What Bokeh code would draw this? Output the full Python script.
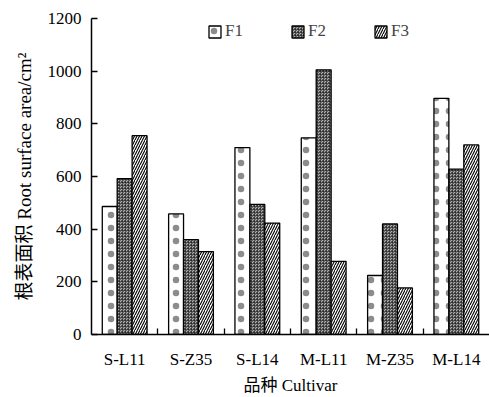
from bokeh.plotting import figure
from bokeh.models import FixedTicker, Legend, LegendItem, Range1d
from bokeh.embed import file_html
from bokeh.resources import INLINE

categories = ["S-L11", "S-Z35", "S-L14", "M-L11", "M-Z35", "M-L14"]
F1 = [486, 458, 710, 747, 224, 897]
F2 = [592, 360, 494, 1005, 420, 628]
F3 = [755, 315, 423, 278, 177, 720]
y_ticks = [0, 200, 400, 600, 800, 1000, 1200]

centers = [i + 0.5 for i in range(len(categories))]
bounds = [i for i in range(1, len(categories))]
bw = 0.225

p = figure(width=489, height=397, output_backend="svg", toolbar_location=None,
           x_range=Range1d(0, 6), y_range=Range1d(0, 1200),
           min_border_left=91, min_border_right=0, min_border_top=18, min_border_bottom=63)
p.outline_line_color = None
p.grid.visible = False
p.background_fill_color = "white"

common = dict(width=bw, bottom=0, line_color="black", line_width=1.3)
r1 = p.vbar(x=[c - bw for c in centers], top=F1, fill_color="white",
            hatch_pattern="dot", hatch_scale=13, hatch_weight=0.4, hatch_color="black",
            hatch_alpha=0.45, **common)
r2 = p.vbar(x=centers, top=F2, fill_color="#b0b0b0",
            hatch_pattern="criss_cross", hatch_scale=3, hatch_weight=0.6, hatch_color="#222222", **common)
r3 = p.vbar(x=[c + bw for c in centers], top=F3, fill_color="white",
            hatch_pattern="right_diagonal_line", hatch_scale=5, hatch_weight=1.1, hatch_color="black", **common)

font = "Liberation Serif"
label_font = "Liberation Serif, Noto Sans CJK SC"
p.xaxis.ticker = FixedTicker(ticks=centers, minor_ticks=bounds)
p.xaxis.major_label_overrides = {c: n for c, n in zip(centers, categories)}
p.xaxis.major_tick_line_color = None
p.xaxis.minor_tick_in = 6
p.xaxis.minor_tick_out = 0
p.xaxis.minor_tick_line_color = "black"
p.xaxis.major_label_standoff = 9
p.xaxis.axis_label = "品种 Cultivar"
p.xaxis.axis_label_standoff = 4

p.yaxis.ticker = FixedTicker(ticks=y_ticks)
p.yaxis.major_tick_in = 6
p.yaxis.major_tick_out = 0
p.yaxis.minor_tick_line_color = None
p.yaxis.major_label_standoff = 10
p.yaxis.axis_label = "根表面积 Root surface area/cm²"
p.yaxis.axis_label_standoff = 10

for ax in (p.xaxis, p.yaxis):
    ax.axis_line_color = "black"
    ax.axis_line_width = 1.5
    ax.major_tick_line_width = 1.3
    ax.minor_tick_line_width = 1.3
    ax.major_label_text_font = font
    ax.major_label_text_font_size = "17px"
    ax.major_label_text_color = "black"
    ax.axis_label_text_font = label_font
    ax.axis_label_text_font_style = "normal"
    ax.axis_label_text_color = "black"
p.xaxis.axis_label_text_font_size = "17px"
p.yaxis.axis_label_text_font_size = "19px"

legend = Legend(items=[LegendItem(label="F1", renderers=[r1]),
                       LegendItem(label="F2", renderers=[r2]),
                       LegendItem(label="F3", renderers=[r3])],
                orientation="horizontal", location=(116, 293),
                glyph_width=15, glyph_height=15, label_standoff=3, spacing=45,
                padding=0, margin=0, border_line_color=None, background_fill_alpha=0,
                label_text_font=font, label_text_font_size="17px", label_height=15)
p.add_layout(legend, "center")

open("out.html", "w").write(file_html(p, INLINE))
